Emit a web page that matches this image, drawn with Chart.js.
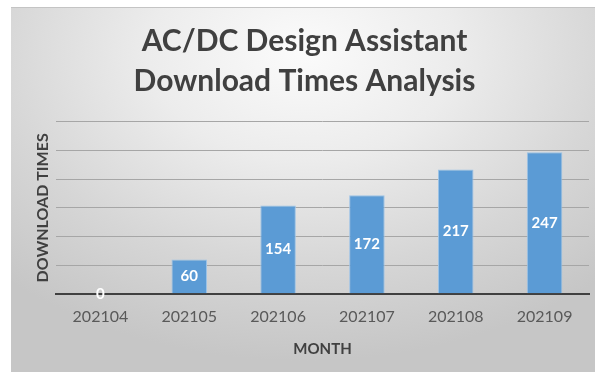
<!DOCTYPE html>
<html>
<head>
<meta charset="utf-8">
<script src="https://cdn.jsdelivr.net/npm/chart.js@4.4.1/dist/chart.umd.min.js"></script>
<style>
  html, body { margin: 0; padding: 0; background: #ffffff; }
  #wrap { position: relative; width: 595px; height: 373px; background: #ffffff; overflow: hidden; }
  #panel { position: absolute; left: 11px; top: 7px; width: 584px; height: 365px;
    background: radial-gradient(ellipse 75% 85% at 50% 12%, #fbfbfb 0%, #ececec 35%, #d6d6d6 70%, #c6c6c6 100%);
    border-top: 1px solid #c4c4c4; box-sizing: border-box; }
  #c { position: absolute; left: 0; top: 0; }
</style>
</head>
<body>
<div id="wrap">
  <div id="panel"></div>
  <canvas id="c" width="595" height="373"></canvas>
</div>
<script>
const titleLines = ['AC/DC Design Assistant', 'Download Times Analysis'];
const months = ['202104', '202105', '202106', '202107', '202108', '202109'];
const downloads = [0, 60, 154, 172, 217, 247];
const yAxisMax = 300;
const yAxisStep = 50;
const xAxisTitle = 'MONTH';
const yAxisTitle = 'DOWNLOAD TIMES';

const FONT = 'Lato, "Open Sans", "DejaVu Sans", sans-serif';

const valueLabels = {
  id: 'valueLabels',
  afterDatasetsDraw(chart) {
    const ctx = chart.ctx;
    const meta = chart.getDatasetMeta(0);
    const data = chart.data.datasets[0].data;
    ctx.save();
    ctx.font = 'bold 15px ' + FONT;
    ctx.fillStyle = '#ffffff';
    ctx.textAlign = 'center';
    ctx.textBaseline = 'middle';
    meta.data.forEach((bar, i) => {
      const p = bar.getProps(['x', 'y', 'base'], true);
      const y = (p.y + p.base) / 2;
      ctx.fillText(String(data[i]), p.x, y);
    });
    ctx.restore();
  }
};

new Chart(document.getElementById('c'), {
  type: 'bar',
  data: {
    labels: months,
    datasets: [{
      data: downloads,
      backgroundColor: '#5b9bd5',
      borderColor: '#9dc3e6',
      borderWidth: 1,
      barPercentage: 0.4,
      categoryPercentage: 1.0
    }]
  },
  options: {
    responsive: false,
    animation: false,
    devicePixelRatio: 1,
    layout: { padding: { left: 20, right: 6, top: 0, bottom: 15 } },
    plugins: {
      legend: { display: false },
      tooltip: { enabled: false },
      title: {
        display: true,
        text: titleLines,
        color: '#404040',
        font: { family: FONT, size: 30, weight: 'bold', lineHeight: 1.333 },
        padding: { top: 21, bottom: 21 }
      }
    },
    scales: {
      x: {
        grid: { display: false, drawTicks: false },
        border: { display: true, color: '#404040', width: 2 },
        ticks: { color: '#595959', font: { family: FONT, size: 16 }, padding: 13 },
        title: { display: true, text: xAxisTitle, color: '#404040', font: { family: FONT, size: 15, weight: 'bold' }, padding: { top: 1, bottom: 0 } }
      },
      y: {
        min: 0,
        max: yAxisMax,
        ticks: { display: false, stepSize: yAxisStep },
        grid: { color: '#a6a6a6', lineWidth: 1, drawTicks: false },
        border: { display: false },
        title: { display: true, text: yAxisTitle, color: '#404040', font: { family: FONT, size: 16, weight: 'bold' }, padding: { top: 13, bottom: 0 } },
        afterFit(scale) { scale.width = 36; }
      }
    }
  },
  plugins: [valueLabels]
});
</script>
</body>
</html>
